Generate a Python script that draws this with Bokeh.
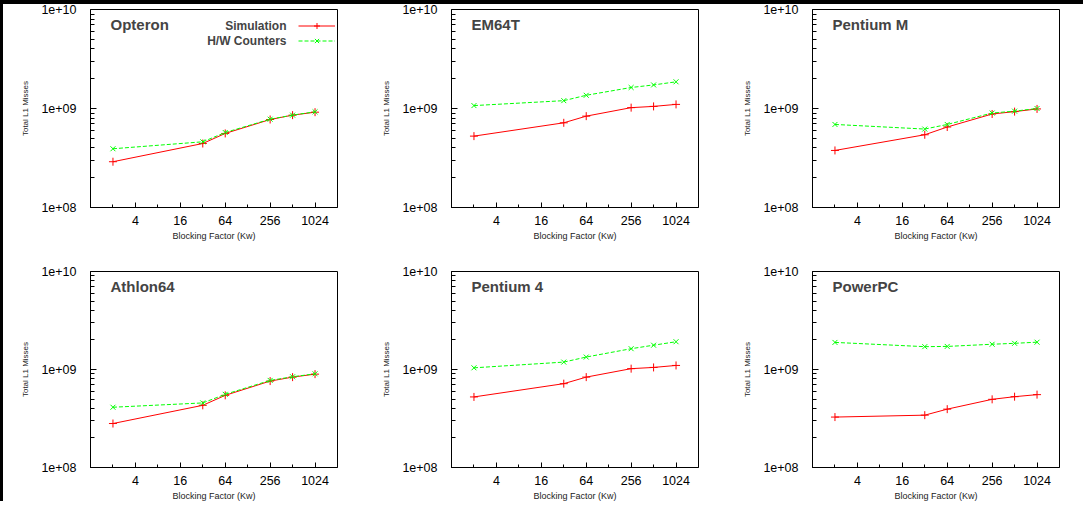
from bokeh.plotting import figure
from bokeh.layouts import column, row
from bokeh.models import Range1d, FixedTicker, Label, Legend, LegendItem, Div
from bokeh.core.properties import value
from bokeh.embed import file_html
from bokeh.resources import INLINE

# ---------------- data ----------------
blocking = [2, 32, 64, 256, 512, 1024]

x_ticks = [4, 16, 64, 256, 1024]
x_tick_labels = ["4", "16", "64", "256", "1024"]
x_minor = [2, 8, 32, 128, 512]

y_ticks = [1e8, 1e9, 1e10]
y_tick_labels = ["1e+08", "1e+09", "1e+10"]

panel_names = ["Opteron", "EM64T", "Pentium M", "Athlon64", "Pentium 4", "PowerPC"]

opteron_sim = [2.90e8, 4.43e8, 5.60e8, 7.74e8, 8.57e8, 9.18e8]
opteron_hw = [3.92e8, 4.61e8, 5.72e8, 7.80e8, 8.57e8, 9.26e8]
em64t_sim = [5.26e8, 7.17e8, 8.37e8, 1.02e9, 1.05e9, 1.10e9]
em64t_hw = [1.07e9, 1.20e9, 1.36e9, 1.63e9, 1.73e9, 1.86e9]
pentiumm_sim = [3.77e8, 5.43e8, 6.50e8, 8.80e8, 9.30e8, 9.90e8]
pentiumm_hw = [6.90e8, 6.20e8, 6.90e8, 9.00e8, 9.40e8, 1.00e9]
athlon_sim = [2.81e8, 4.31e8, 5.45e8, 7.62e8, 8.36e8, 8.97e8]
athlon_hw = [4.12e8, 4.56e8, 5.58e8, 7.74e8, 8.43e8, 9.04e8]
p4_sim = [5.25e8, 7.17e8, 8.36e8, 1.02e9, 1.05e9, 1.10e9]
p4_hw = [1.04e9, 1.19e9, 1.34e9, 1.63e9, 1.77e9, 1.92e9]
ppc_sim = [3.27e8, 3.42e8, 3.94e8, 4.96e8, 5.28e8, 5.54e8]
ppc_hw = [1.89e9, 1.71e9, 1.72e9, 1.81e9, 1.85e9, 1.90e9]

series_names = ["Simulation", "H/W Counters"]

# ---------------- style ----------------
FONT = "Liberation Sans"
RED = "#ff0000"
GREEN = "#00ff00"
FRAME_W = 247
FIG_W = 360
y_minor = [m * d for d in (1e8, 1e9) for m in range(2, 10)]


def make_panel(name, sim, hw, border_left, frame_h, top, bottom, legend=False):
    p = figure(x_axis_type="log", y_axis_type="log",
               frame_width=FRAME_W, frame_height=frame_h,
               min_border_left=border_left, min_border_right=FIG_W - FRAME_W - border_left,
               min_border_top=top, min_border_bottom=bottom,
               x_range=Range1d(1, 2048), y_range=Range1d(1e8, 1e10),
               output_backend="svg", toolbar_location=None)
    p.xgrid.visible = False
    p.ygrid.visible = False
    p.outline_line_color = "black"
    p.outline_line_alpha = 1.0
    p.outline_line_width = 1
    p.background_fill_color = "white"
    p.border_fill_color = "white"

    xa = p.xaxis[0]
    ya = p.yaxis[0]
    xa.ticker = FixedTicker(ticks=x_ticks, minor_ticks=x_minor)
    xa.major_label_overrides = dict(zip(x_ticks, x_tick_labels))
    ya.ticker = FixedTicker(ticks=y_ticks, minor_ticks=y_minor)
    ya.major_label_overrides = dict(zip(y_ticks, y_tick_labels))
    for ax in (xa, ya):
        ax.axis_line_color = "black"
        ax.major_tick_line_color = "black"
        ax.minor_tick_line_color = "black"
        ax.major_tick_out = 0
        ax.minor_tick_out = 0
        ax.major_label_text_font = FONT
        ax.major_label_text_font_size = "12.5px"
        ax.major_label_text_color = "black"
        ax.axis_label_text_font = FONT
        ax.axis_label_text_font_style = "normal"
        ax.axis_label_text_color = "#222222"
    xa.major_tick_in = 5
    xa.minor_tick_in = 3
    xa.major_label_standoff = 8
    xa.axis_label = "Blocking Factor (Kw)"
    xa.axis_label_text_font_size = "9px"
    xa.axis_label_standoff = 3
    ya.major_tick_in = 6
    ya.minor_tick_in = 4
    ya.major_label_standoff = 14
    ya.axis_label = "Total L1 Misses"
    ya.axis_label_text_font_size = "8px"
    ya.axis_label_standoff = 8

    sim_line = p.line(blocking, sim, line_color=RED, line_width=1)
    sim_pts = p.scatter(blocking, sim, marker="cross", size=8, line_color=RED, line_width=1)
    hw_line = p.line(blocking, hw, line_color=GREEN, line_width=1, line_dash="4 2")
    hw_pts = p.scatter(blocking, hw, marker="x", size=7, line_color=GREEN, line_width=1)

    p.add_layout(Label(x=20, y=frame_h - 15, x_units="screen", y_units="screen",
                       text=name, text_font=FONT, text_font_style="bold",
                       text_font_size="15px", text_baseline="middle", text_align="left"))

    if legend:
        # tuple location = bottom-left corner of the legend box, frame-relative
        lg = Legend(items=[LegendItem(label=value(" "), renderers=[sim_line, sim_pts]),
                           LegendItem(label=value(" "), renderers=[hw_line, hw_pts])],
                    location=(208, frame_h - 8.5 - 30), orientation="vertical",
                    glyph_width=37, glyph_height=15, label_height=15, label_width=0,
                    label_standoff=0, spacing=0, padding=0, margin=0,
                    border_line_alpha=0, background_fill_alpha=0,
                    label_text_font_size="1px")
        p.add_layout(lg)
        for i, txt in enumerate(series_names):
            p.add_layout(Label(x=196, y=frame_h - 16 - 15 * i, x_units="screen", y_units="screen",
                               text=txt, text_font=FONT, text_font_style="bold",
                               text_font_size="12px", text_baseline="middle", text_align="right"))
    return p


lefts = [87, 88, 89]
top_data = [(opteron_sim, opteron_hw), (em64t_sim, em64t_hw), (pentiumm_sim, pentiumm_hw)]
bot_data = [(athlon_sim, athlon_hw), (p4_sim, p4_hw), (ppc_sim, ppc_hw)]

row1 = [make_panel(panel_names[i], s, h, lefts[i], 198, 5, 55, legend=(i == 0))
        for i, (s, h) in enumerate(top_data)]
row2 = [make_panel(panel_names[3 + i], s, h, lefts[i], 196, 9, 34)
        for i, (s, h) in enumerate(bot_data)]

# black page-edge bars seen in the reference image
top_bar = Div(text="", width=3 + 3 * FIG_W, height=4, margin=0,
              styles={"background-color": "black"})
left_bar = Div(text="", width=3, height=258 + 239, margin=0,
               styles={"background-color": "black"})

layout = column(top_bar, row(left_bar, column(row(*row1), row(*row2))))
open("out.html", "w").write(file_html(layout, INLINE, title="L1 misses"))
